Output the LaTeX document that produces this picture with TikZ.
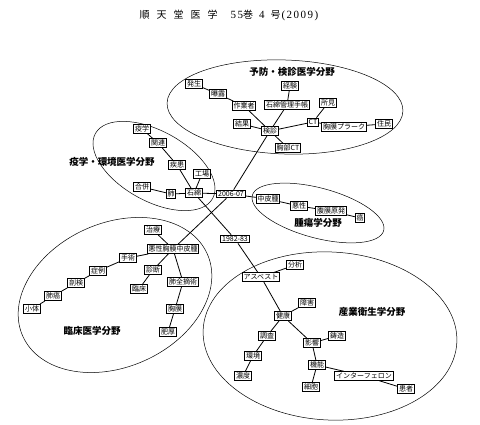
\documentclass[tikz,border=0pt]{standalone}
\usepackage{fontspec}
\setmainfont{Noto Sans CJK JP}
\newfontfamily\lserif{Liberation Serif}
\usetikzlibrary{backgrounds}
\begin{document}
\begin{tikzpicture}[x=1pt,y=-1pt,
  bx/.style={draw, line width=0.85pt, fill=white, inner sep=1.3pt, font=\fontsize{7}{8}\selectfont},
  lbl/.style={font=\fontsize{9.5}{11}\selectfont\bfseries, inner sep=0pt},
  ln/.style={line width=0.8pt},
  el/.style={line width=0.5pt}]
\useasboundingbox (0,0) rectangle (480,425);

\node[font=\fontsize{10}{12}\selectfont, inner sep=0pt] (hdr) at (229,15)
  {順\hspace{7pt}天\hspace{7pt}堂\hspace{7pt}医\hspace{7pt}学\hspace{13pt}{\fontsize{11}{12}\lserif 5\hspace{1.5pt}5}巻\hspace{6pt}{\fontsize{11}{12}\lserif 4}\hspace{6pt}号\hspace{1pt}{\fontsize{11}{12}\lserif (\hspace{1.5pt}2\hspace{1.5pt}0\hspace{1.5pt}0\hspace{1.5pt}9\hspace{1.5pt})}};

% ellipses
\draw[el, shift={(285,107)}, rotate=-2] (0,0) ellipse [x radius=118pt, y radius=47pt];
\draw[el, shift={(154,166)}, rotate=-29] (0,0) ellipse [x radius=67pt, y radius=35pt];
\draw[el, shift={(318,213)}, rotate=-15] (0,0) ellipse [x radius=68pt, y radius=25pt];
\draw[el, shift={(115,295)}, rotate=24] (0,0) ellipse [x radius=101pt, y radius=72pt];
\draw[el, shift={(330,336)}, rotate=-3] (0,0) ellipse [x radius=127pt, y radius=84pt];

% domain labels
\node[lbl] (la) at (292,72) {予防・検診医学分野};
\node[lbl] (lb) at (112,162) {疫学・環境医学分野};
\node[lbl] (lc) at (318,223) {腫瘍学分野};
\node[lbl] (ld) at (92,331) {臨床医学分野};
\node[lbl] (le) at (372,312) {産業衛生学分野};

% section A
\node[bx] (a1) at (194,84) {発生};
\node[bx] (a2) at (218,94) {曝露};
\node[bx] (a3) at (244,106) {作業者};
\node[bx] (a4) at (290,86) {経験};
\node[bx] (a5) at (287,105) {石綿管理手帳};
\node[bx] (a6) at (328,103) {所見};
\node[bx] (a7) at (242,124) {結果};
\node[bx] (a8) at (270,131) {検診};
\node[bx] (a9) at (313,122) {CT};
\node[bx] (a10) at (344,127) {胸膜プラーク};
\node[bx] (a11) at (384,124) {住民};
\node[bx] (a12) at (288,148) {胸部CT};

% section B
\node[bx] (b1) at (142,129) {疫学};
\node[bx] (b2) at (158,143) {関連};
\node[bx] (b3) at (177,165) {疾患};
\node[bx] (b4) at (202,174) {工場};
\node[bx] (b5) at (142,187) {合併};
\node[bx] (b6) at (171,194) {肺};
\node[bx] (b7) at (194,193) {石綿};
\node[bx] (hub1) at (231,194) {2006-07};
\node[bx] (hub2) at (235,239) {1982-83};

% section C
\node[bx] (c1) at (268,199) {中皮腫};
\node[bx] (c2) at (299,206) {悪性};
\node[bx] (c3) at (331,211) {腹膜原発};
\node[bx] (c4) at (360,218) {癌};

% section D
\node[bx] (d1) at (153,230) {治療};
\node[bx] (d2) at (173,249) {悪性胸膜中皮腫};
\node[bx] (d3) at (128,258) {手術};
\node[bx] (d4) at (98,271) {症例};
\node[bx] (d5) at (76,283) {剖検};
\node[bx] (d6) at (53,296) {肺癌};
\node[bx] (d7) at (32,309) {小体};
\node[bx] (d8) at (153,270) {診断};
\node[bx] (d9) at (139,289) {臨床};
\node[bx] (d10) at (183,282) {肺全摘術};
\node[bx] (d11) at (175,309) {胸膜};
\node[bx] (d12) at (168,332) {肥厚};

% section E
\node[bx] (e1) at (295,265) {分析};
\node[bx] (e2) at (261,277) {アスベスト};
\node[bx] (e3) at (307,303) {障害};
\node[bx] (e4) at (283,316) {健康};
\node[bx] (e5) at (267,336) {調査};
\node[bx] (e6) at (312,343) {影響};
\node[bx] (e7) at (337,336) {鋳造};
\node[bx] (e8) at (253,356) {環境};
\node[bx] (e9) at (317,365) {機能};
\node[bx] (e10) at (243,376) {濃度};
\node[bx] (e11) at (311,387) {細胞};
\node[bx] (e12) at (364,376) {インターフェロン};
\node[bx] (e13) at (406,389) {患者};

\begin{scope}[on background layer]
\draw[ln] (a1) -- (a2) -- (a3) -- (a8);
\draw[ln] (a4) -- (a5) -- (a8);
\draw[ln] (a7) -- (a8);
\draw[ln] (a8) -- (a9) -- (a6);
\draw[ln] (a9) -- (a10) -- (a11);
\draw[ln] (a8) -- (a12);
\draw[ln] (a8) -- (hub1);
\draw[ln] (b1) -- (b2) -- (b3) -- (b7);
\draw[ln] (b4) -- (b7);
\draw[ln] (b5) -- (b6) -- (b7);
\draw[ln] (b7) -- (hub1);
\draw[ln] (b7) -- (hub2);
\draw[ln] (hub1) -- (c1) -- (c2) -- (c3) -- (c4);
\draw[ln] (hub1) -- (d2);
\draw[ln] (d1) -- (d2);
\draw[ln] (d2) -- (d3) -- (d4) -- (d5) -- (d6) -- (d7);
\draw[ln] (d2) -- (d8) -- (d9);
\draw[ln] (d2) -- (d10) -- (d11) -- (d12);
\draw[ln] (hub2) -- (e2);
\draw[ln] (e2) -- (e1);
\draw[ln] (e2) -- (e4);
\draw[ln] (e4) -- (e3);
\draw[ln] (e4) -- (e5) -- (e8) -- (e10);
\draw[ln] (e4) -- (e6) -- (e7);
\draw[ln] (e6) -- (e9) -- (e11);
\draw[ln] (e9) -- (e12) -- (e13);
\end{scope}
\end{tikzpicture}
\end{document}
